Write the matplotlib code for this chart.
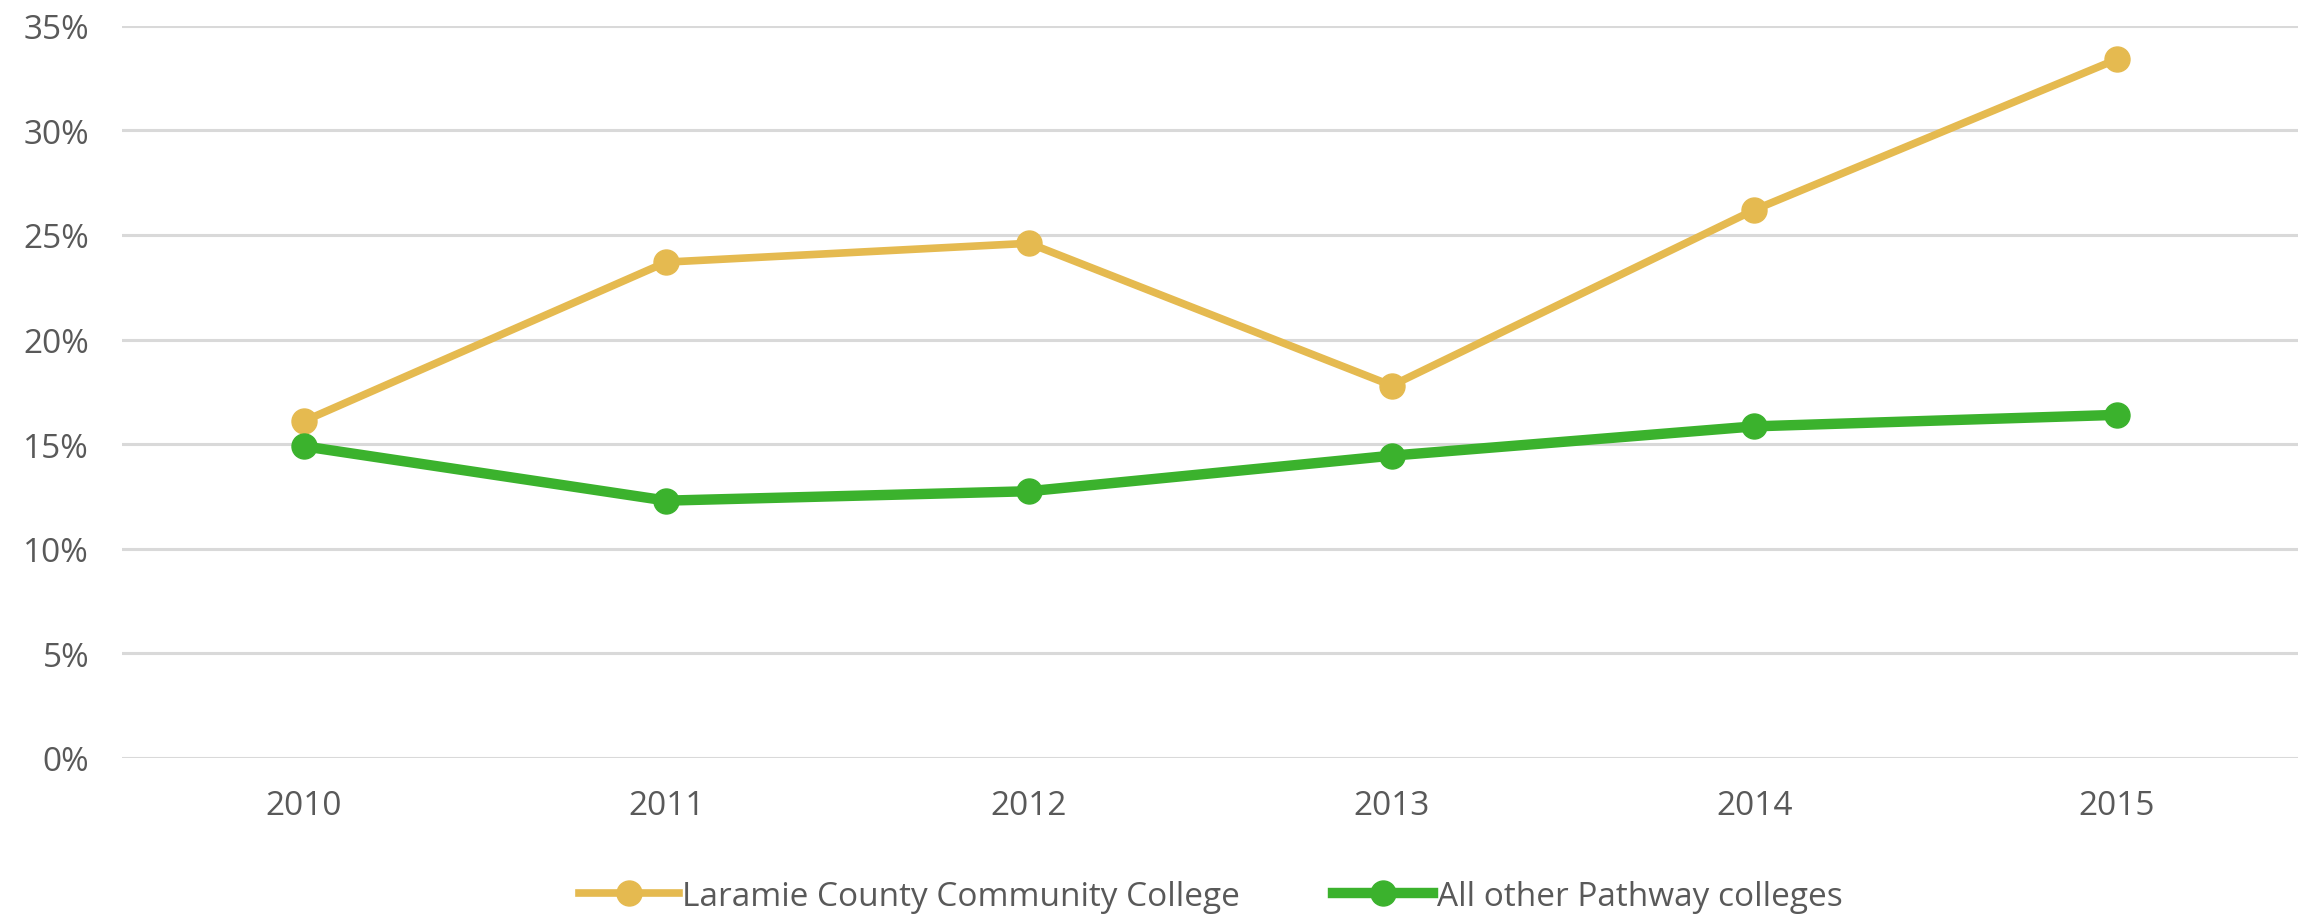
import numpy as np, matplotlib; matplotlib.use("Agg"); import matplotlib.pyplot as plt
from matplotlib.ticker import FuncFormatter
plt.rcParams['font.family'] = ['Open Sans', 'DejaVu Sans']
years = ["2010", "2011", "2012", "2013", "2014", "2015"]
lccc = [16.1, 23.7, 24.6, 17.8, 26.2, 33.4]          # Laramie County Community College
others = [14.9, 12.3, 12.75, 14.45, 15.85, 16.4]     # All other Pathway colleges
yticks = [0, 5, 10, 15, 20, 25, 30, 35]

fig = plt.figure(figsize=(23.1, 9.2), dpi=100)
ax = fig.add_axes([0.053, 0.175, 0.942, 0.796])
x = np.arange(len(years))
ax.plot(x, lccc, color="#E5BA50", lw=5.5, marker="o", ms=18, label="Laramie County Community College", zorder=3)
ax.plot(x, others, color="#3BB22D", lw=7.5, marker="o", ms=18, label="All other Pathway colleges", zorder=3)
ax.set_xlim(-0.5, len(years) - 0.5); ax.set_ylim(0, 35)
ax.set_yticks(yticks); ax.yaxis.set_major_formatter(FuncFormatter(lambda v, p: f"{v:.0f}%"))
ax.set_xticks(x); ax.set_xticklabels(years)
ax.grid(axis="y", color="#D9D9D9", lw=2.2); ax.set_axisbelow(True)
for s in ax.spines.values(): s.set_visible(False)
ax.tick_params(length=0, labelsize=24, colors="#595959")
ax.tick_params(axis="x", pad=22)
ax.tick_params(axis="y", pad=24)
leg = ax.legend(loc="upper center", bbox_to_anchor=(0.5, -0.125), ncol=2, frameon=False, fontsize=24,
                handlelength=3.0, columnspacing=2.8, handletextpad=0.1)
for t in leg.get_texts(): t.set_color("#595959")
fig.savefig("out.png", dpi=100)
